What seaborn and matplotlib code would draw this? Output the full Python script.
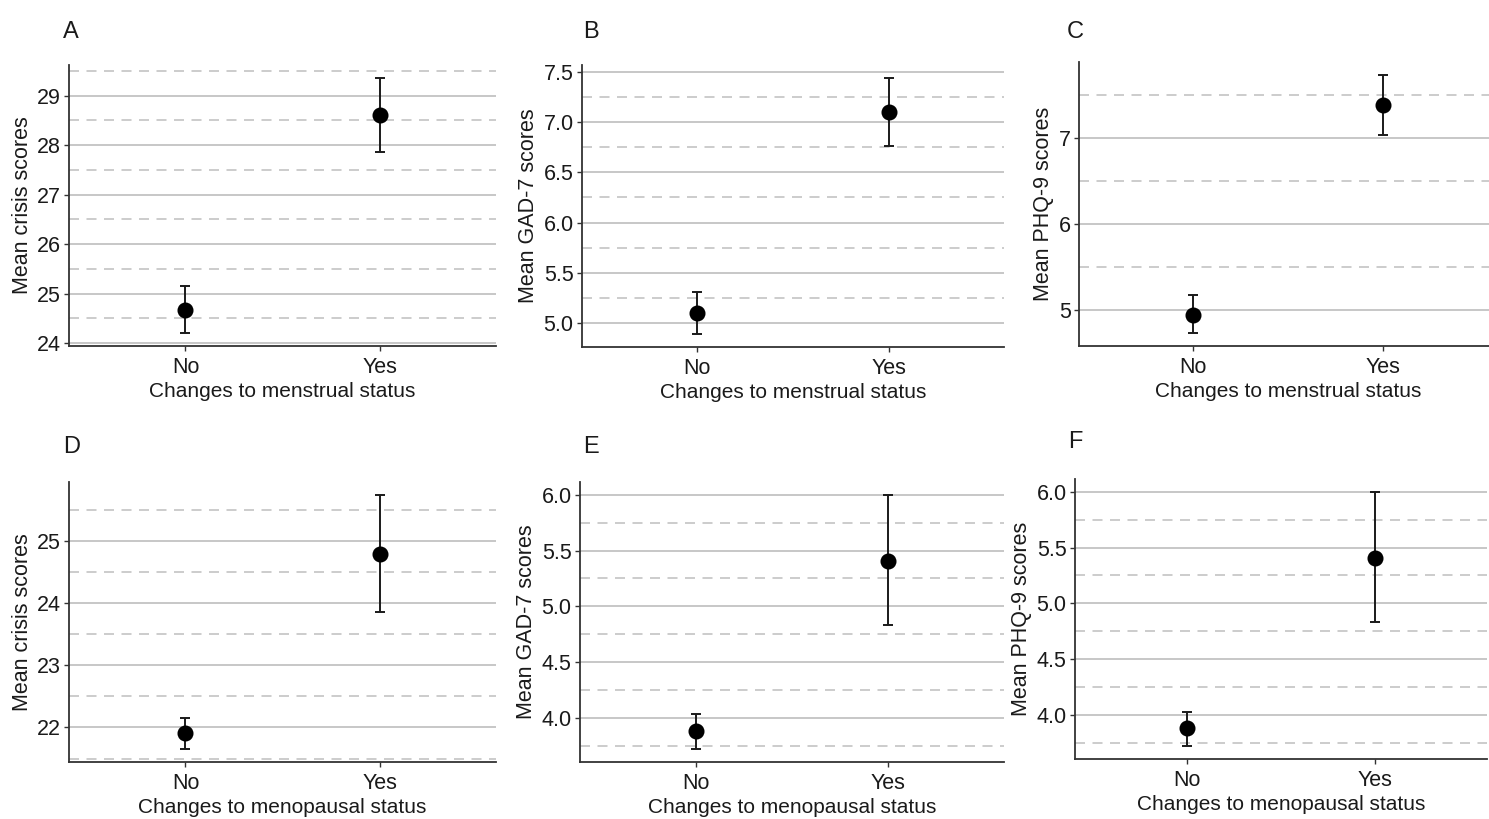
import numpy as np
import pandas as pd
import matplotlib
matplotlib.use('Agg')
import matplotlib.pyplot as plt
from matplotlib.ticker import MultipleLocator, FormatStrFormatter
import seaborn as sns

# ── DATA ──
categories = ['No', 'Yes']

panel_letters = ['A', 'B', 'C', 'D', 'E', 'F']
y_labels = ['Mean crisis scores', 'Mean GAD-7 scores', 'Mean PHQ-9 scores',
            'Mean crisis scores', 'Mean GAD-7 scores', 'Mean PHQ-9 scores']
x_labels = ['Changes to menstrual status'] * 3 + ['Changes to menopausal status'] * 3

means_a = [24.67, 28.60]
lower_a = [24.20, 27.86]
upper_a = [25.15, 29.36]

means_b = [5.10, 7.10]
lower_b = [4.89, 6.76]
upper_b = [5.31, 7.44]

means_c = [4.94, 7.38]
lower_c = [4.73, 7.03]
upper_c = [5.17, 7.73]

means_d = [21.91, 24.79]
lower_d = [21.65, 23.85]
upper_d = [22.16, 25.74]

means_e = [3.88, 5.41]
lower_e = [3.72, 4.83]
upper_e = [4.04, 6.00]

means_f = [3.88, 5.41]
lower_f = [3.72, 4.83]
upper_f = [4.03, 6.00]

tick_steps = [1, 0.5, 1, 1, 0.5, 0.5]

panels = [
    (means_a, lower_a, upper_a),
    (means_b, lower_b, upper_b),
    (means_c, lower_c, upper_c),
    (means_d, lower_d, upper_d),
    (means_e, lower_e, upper_e),
    (means_f, lower_f, upper_f),
]

# ── STYLE ──
sns.set_theme(style='white')
plt.rcParams['font.family'] = ['Liberation Sans', 'DejaVu Sans']

W, H = 1489, 819
fig = plt.figure(figsize=(W / 100, H / 100), dpi=100)
fig.patch.set_facecolor('white')

# axes boxes in pixels: left, top, width, height
boxes = [
    (69, 65, 427, 281), (582, 65, 422, 282), (1079, 62, 418, 284),
    (69, 482, 427, 280), (580, 482, 424, 280), (1075, 479, 412, 280),
]
letter_pos = [(63, 38), (583, 38), (1067, 38), (63, 453), (583, 453), (1068, 448)]

GRID = '#c3c3c3'
DARK = '#1a1a1a'

for i, (mean, lo, hi) in enumerate(panels):
    l, t, w, h = boxes[i]
    ax = fig.add_axes([l / W, 1 - (t + h) / H, w / W, h / H])
    df = pd.DataFrame({'group': categories, 'mean': mean})

    sns.pointplot(data=df, x='group', y='mean', order=categories, errorbar=None,
                  linestyle='none', marker='o', color='black', markersize=9.5,
                  ax=ax, zorder=4)
    m = np.array(mean)
    ax.errorbar(np.arange(len(categories)), m,
                yerr=[m - np.array(lo), np.array(hi) - m],
                fmt='none', ecolor=DARK, elinewidth=1.4, capsize=3.3,
                capthick=1.4, zorder=3)

    # ggplot-like 5% expansion of the data range
    span = max(hi) - min(lo)
    ax.set_ylim(min(lo) - 0.05 * span, max(hi) + 0.05 * span)
    ax.set_xlim(-0.6, 1.6)

    step = tick_steps[i]
    ax.yaxis.set_major_locator(MultipleLocator(step))
    ax.yaxis.set_minor_locator(MultipleLocator(step / 2))
    ax.yaxis.set_major_formatter(FormatStrFormatter('%.1f' if step < 1 else '%d'))

    ax.set_axisbelow(True)
    ax.grid(False, axis='x')
    ax.yaxis.grid(True, which='major', color=GRID, linewidth=1.3, linestyle='-')
    ax.yaxis.grid(True, which='minor', color=GRID, linewidth=1.2,
                  linestyle=(0, (6, 4.5)))

    for s in ['top', 'right']:
        ax.spines[s].set_visible(False)
    for s in ['left', 'bottom']:
        ax.spines[s].set_color('#333333')
        ax.spines[s].set_linewidth(1.3)

    ax.tick_params(axis='both', which='major', length=3.5, width=1.0,
                   color='#333333', labelsize=15.5, labelcolor=DARK, pad=2.5,
                   left=True, bottom=True)
    ax.tick_params(axis='x', which='major', pad=4.5)
    ax.tick_params(axis='y', which='minor', length=0)

    ax.set_xlabel(x_labels[i], fontsize=15, color=DARK, labelpad=3)
    ax.set_ylabel(y_labels[i], fontsize=15.5, color=DARK, labelpad=3)

    lx, ly = letter_pos[i]
    fig.text(lx / W, 1 - ly / H, panel_letters[i], fontsize=17, color=DARK,
             ha='left', va='baseline')

fig.savefig('out.png', dpi=100, facecolor='white')
